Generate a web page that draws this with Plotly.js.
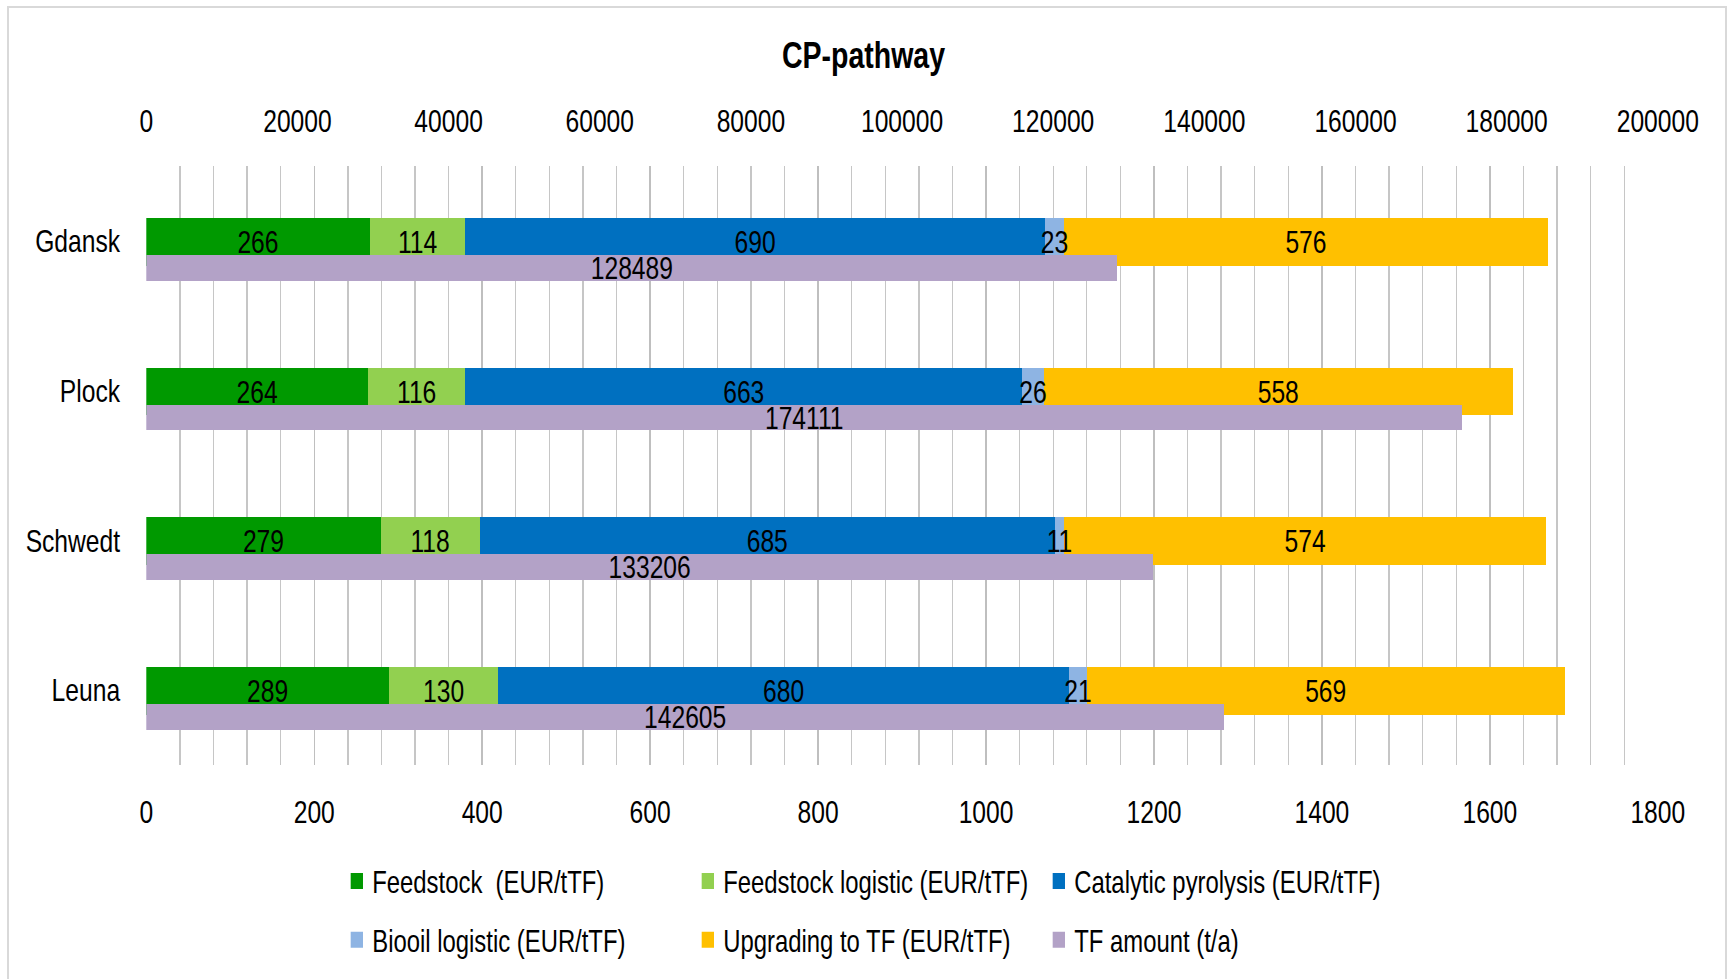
<!DOCTYPE html>
<html>
<head>
<meta charset="utf-8">
<script src="https://cdn.plot.ly/plotly-3.0.1.min.js"></script>
<style>
  html, body { margin: 0; padding: 0; background: #ffffff; overflow: hidden; width: 1727px; height: 979px; }
  #frame { position: absolute; left: 7px; top: 6px; width: 1716px; height: 1000px;
           border-left: 2px solid #D9D9D9; border-top: 2px solid #D9D9D9; border-right: 2px solid #D9D9D9; }
  #chart { position: absolute; left: 0; top: 0; transform-origin: 0 0; }
</style>
</head>
<body>
<div id="frame"></div>
<div id="chart"></div>
<script>
const sites = ["Gdansk", "Plock", "Schwedt", "Leuna"];
const feedstock = [266, 264, 279, 289];
const feedstockLogistic = [114, 116, 118, 130];
const catalyticPyrolysis = [690, 663, 685, 680];
const biooilLogistic = [23, 26, 11, 21];
const upgradingToTF = [576, 558, 574, 569];
const tfAmount = [128489, 174111, 133206, 142605];

const costTickVals = [0, 200, 400, 600, 800, 1000, 1200, 1400, 1600, 1800];
const amountTickVals = [0, 20000, 40000, 60000, 80000, 100000, 120000, 140000, 160000, 180000, 200000];

// narrow (condensed) rendering of the whole chart, like the reference
const S = 0.77;
const FONT = '"Liberation Sans", Arial, sans-serif';

const costSeries = [
  { name: 'Feedstock  (EUR/tTF)', values: feedstock, color: '#009900', legend: 'legend' },
  { name: 'Feedstock logistic (EUR/tTF)', values: feedstockLogistic, color: '#92D050', legend: 'legend' },
  { name: 'Catalytic pyrolysis (EUR/tTF)', values: catalyticPyrolysis, color: '#0070C0', legend: 'legend' },
  { name: 'Biooil logistic (EUR/tTF)', values: biooilLogistic, color: '#8EB4E3', legend: 'legend2' },
  { name: 'Upgrading to TF (EUR/tTF)', values: upgradingToTF, color: '#FFC000', legend: 'legend2' }
];
const tfSeries = { name: 'TF amount (t/a)', values: tfAmount, color: '#B3A2C7', legend: 'legend2' };

const data = costSeries.map(s => ({
  type: 'bar', orientation: 'h', name: s.name,
  y: sites, x: s.values,
  xaxis: 'x', yaxis: 'y',
  marker: { color: s.color, line: { width: 0 } },
  offset: -0.153, width: 0.319,
  textposition: 'none',
  showlegend: false,
  hoverinfo: 'x+y+name'
}));

data.push({
  type: 'bar', orientation: 'h', name: tfSeries.name,
  y: sites, x: tfSeries.values,
  xaxis: 'x2', yaxis: 'y',
  marker: { color: tfSeries.color, line: { width: 0 } },
  offset: 0.093, width: 0.173,
  text: tfSeries.values.map(String),
  texttemplate: '%{text}',
  textposition: 'inside', insidetextanchor: 'middle',
  constraintext: 'none',
  textfont: { family: FONT, size: 32, color: '#000000' },
  showlegend: false,
  hoverinfo: 'x+y+name'
});

// value labels of the stacked segments, at each segment's middle, drawn above all bars
const labelX = [], labelY = [], labelText = [];
sites.forEach((site, i) => {
  let start = 0;
  costSeries.forEach(s => {
    const v = s.values[i];
    labelX.push(start + v / 2);
    labelY.push(site);
    labelText.push(String(v));
    start += v;
  });
});
data.push({
  type: 'scatter', mode: 'text', x: labelX, y: labelY, text: labelText,
  xaxis: 'x', yaxis: 'y2', textposition: 'middle center',
  textfont: { family: FONT, size: 32, color: '#000000' },
  showlegend: false, hoverinfo: 'skip', cliponaxis: false
});

// legend entries (square keys)
costSeries.concat([tfSeries]).forEach(s => {
  data.push({
    type: 'scatter', mode: 'markers', name: s.name,
    x: [null], y: [null], xaxis: 'x', yaxis: 'y',
    marker: { symbol: 'square', size: 16, color: s.color },
    legend: s.legend, showlegend: true, hoverinfo: 'skip'
  });
});

const legendCommon = {
  orientation: 'h', xanchor: 'left', yanchor: 'middle', traceorder: 'normal',
  itemsizing: 'trace',
  font: { family: FONT, size: 31, color: '#000000' },
  entrywidth: 351 / S - 45, entrywidthmode: 'pixels',
  bgcolor: 'rgba(0,0,0,0)', itemclick: false, itemdoubleclick: false
};

const W = 1727 / S;
const legendX = (372 - 40 * S - 146) / 1512;
const labelShift = 4 / 150.5;

const layout = {
  width: W, height: 979,
  margin: { l: 146 / S, r: 69 / S, t: 166, b: 211, pad: 0 },
  paper_bgcolor: 'rgba(0,0,0,0)', plot_bgcolor: 'rgba(0,0,0,0)',
  font: { family: FONT, size: 32, color: '#000000' },
  title: {
    text: '<b>CP-pathway</b>',
    font: { family: FONT, size: 37, color: '#000000' },
    x: 0.5, xref: 'container', xanchor: 'center',
    y: 1 - 55 / 979, yref: 'container', yanchor: 'middle'
  },
  barmode: 'stack',
  showlegend: true,
  xaxis: {
    range: [0, 1800], tickvals: costTickVals, ticktext: costTickVals.map(String),
    side: 'bottom', showgrid: true, gridcolor: '#BFBFBF', gridwidth: 1.8,
    minor: { dtick: 40, tick0: 0, showgrid: true, gridcolor: '#C6C6C6', gridwidth: 1.8, ticks: '' },
    zeroline: false, showline: false, ticks: '',
    ticklabelstandoff: 25,
    tickfont: { family: FONT, size: 32, color: '#000000' },
    fixedrange: true
  },
  xaxis2: {
    range: [0, 200000], tickvals: amountTickVals, ticktext: amountTickVals.map(String),
    overlaying: 'x', side: 'top', anchor: 'y',
    showgrid: false, zeroline: false, showline: false, ticks: '',
    ticklabelstandoff: 27,
    tickfont: { family: FONT, size: 32, color: '#000000' },
    fixedrange: true
  },
  yaxis: {
    type: 'category', categoryorder: 'array', categoryarray: sites,
    range: [sites.length - 0.5, -0.5], showgrid: false, zeroline: false, showline: false, ticks: '',
    ticklabelstandoff: 33,
    tickfont: { family: FONT, size: 32, color: '#000000' },
    fixedrange: true
  },
  yaxis2: {
    type: 'category', categoryorder: 'array', categoryarray: sites,
    overlaying: 'y', anchor: 'x',
    range: [sites.length - 0.5 - labelShift, -0.5 - labelShift],
    showgrid: false, zeroline: false, showline: false, ticks: '', showticklabels: false,
    fixedrange: true
  },
  legend: Object.assign({}, legendCommon, { x: legendX, y: (768 - 885) / 602 }),
  legend2: Object.assign({}, legendCommon, { x: legendX, y: (768 - 944) / 602 })
};

const chart = document.getElementById('chart');
chart.style.width = W + 'px';
chart.style.height = '979px';
chart.style.transform = 'scaleX(' + S + ')';
Plotly.newPlot(chart, data, layout, { displayModeBar: false, responsive: false, staticPlot: true });
</script>
</body>
</html>
